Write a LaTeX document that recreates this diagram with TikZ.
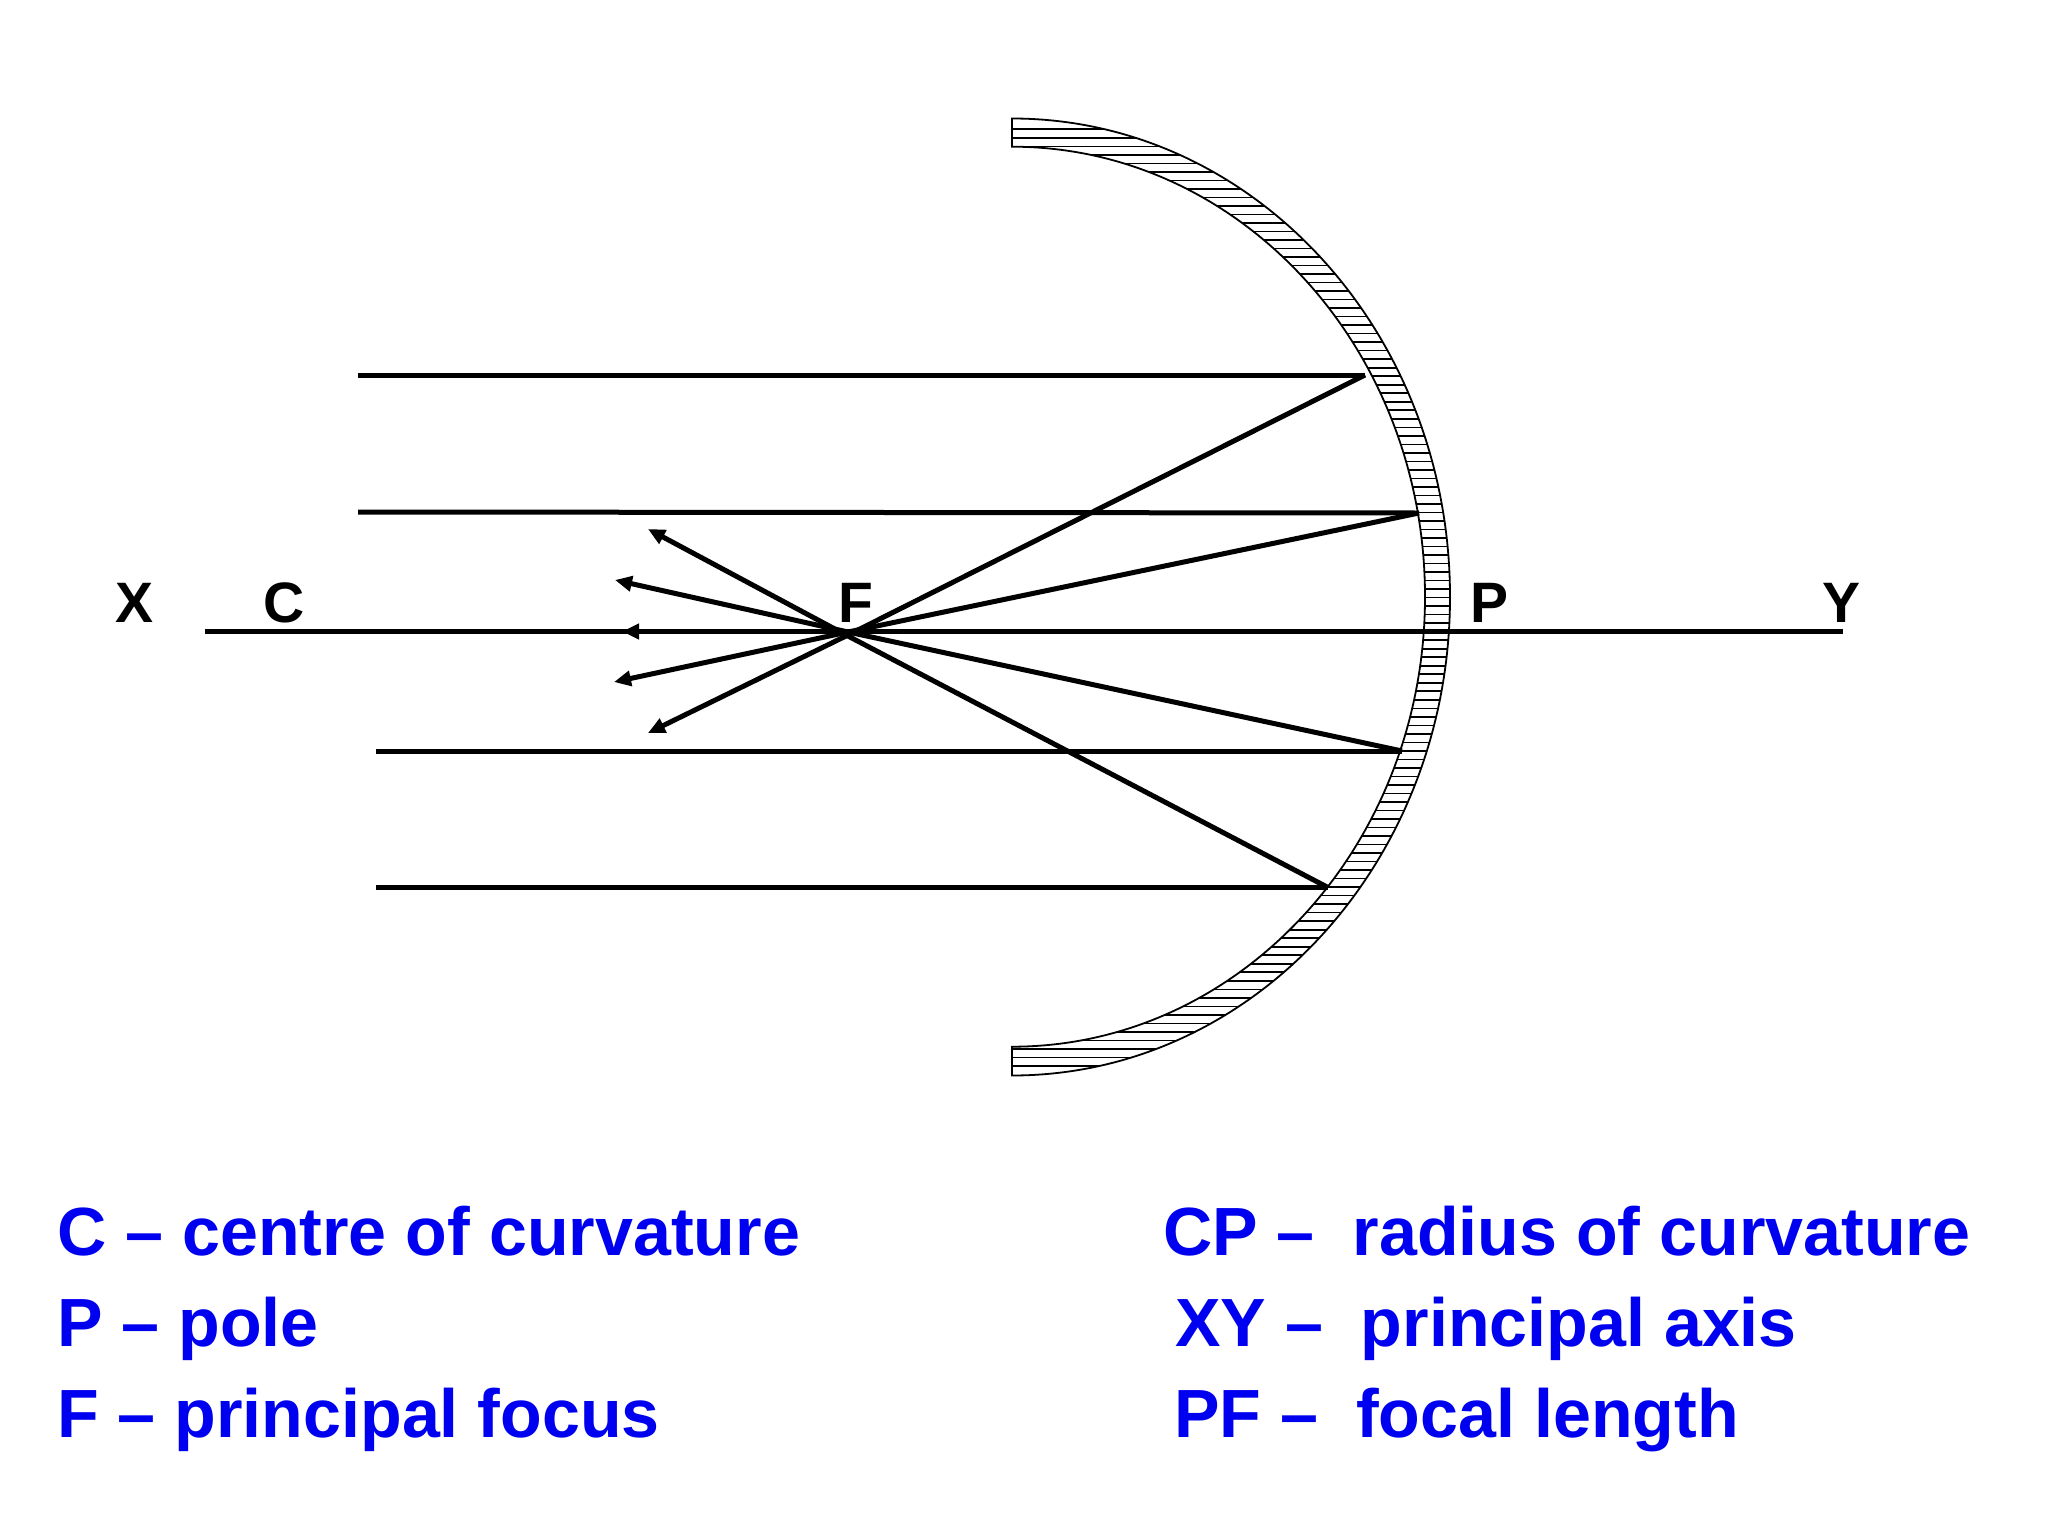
\documentclass[tikz,border=0pt]{standalone}
\usepackage{fontspec}
\setmainfont{Liberation Sans}
\usetikzlibrary{arrows.meta}
\definecolor{legendblue}{RGB}{0,0,240}
\tikzset{
  px/.style={x=1pt,y=-1pt},
  ray/.style={line width=5pt,line cap=butt,black},
  tipray/.style={ray,-{Triangle[length=17pt,width=15pt]}},
  axisline/.style={line width=5pt,black},
  mirrorline/.style={line width=1.8pt,black},
  hatchline/.style={line width=1.6pt,black},
  lab/.style={inner sep=0pt,anchor=base,font=\fontsize{57}{60}\selectfont\bfseries},
  legend/.style={inner sep=0pt,anchor=base west,text=legendblue,font=\fontsize{68.2}{72}\selectfont\bfseries}
}
\begin{document}
\begin{tikzpicture}[px]
\useasboundingbox (0,0) rectangle (2048,1536);
\fill[white] (0,0) rectangle (2048,1536);
% hatching
\begin{scope}
\clip (1012,118.5) arc[start angle=90,end angle=-90,x radius=438pt,y radius=478.5pt]
  -- (1012,1046.7) arc[start angle=-90,end angle=90,x radius=413pt,y radius=450pt] -- cycle;
\foreach \i in {0,...,110}{
  \draw[hatchline] (1005,129.3+\i*8.515) -- (1460,129.3+\i*8.515);
}
\end{scope}
\draw[mirrorline] (1012,118.5) arc[start angle=90,end angle=-90,x radius=438pt,y radius=478.5pt]
  -- (1012,1046.7) arc[start angle=-90,end angle=90,x radius=413pt,y radius=450pt] -- cycle;
% points
\coordinate (Fp) at (848,632);
\coordinate (Fo) at (847,635.5);
\coordinate (axL) at (205,631.5);
\coordinate (axR) at (1843,631.5);
\coordinate (axM) at (1428,631.5);
\coordinate (s1) at (358,375);   \coordinate (m1) at (1365,375);
\coordinate (s2) at (358,512);   \coordinate (m2) at (1419,513);
\coordinate (s3) at (376,751);   \coordinate (m3) at (1402,751);
\coordinate (s4) at (376,887.5); \coordinate (m4) at (1328,887.5);
\coordinate (t1) at (648,733);
\coordinate (t2) at (614,682);
\coordinate (t3) at (622,631.5);
\coordinate (t4) at (615,580);
\coordinate (t5) at (648,529);
% axis and rays
\draw[axisline] (axL) -- (axR);
\draw[ray] (s1) -- (m1);
\draw[ray] (s2) -- (m2);
\draw[ray] (s3) -- (m3);
\draw[ray] (s4) -- (m4);
\draw[ray] (m1) -- (Fo);
\draw[ray] (m2) -- (Fp);
\draw[ray] (m3) -- (Fp);
\draw[ray] (m4) -- (Fo);
\draw[tipray] (Fo) -- (t1);
\draw[tipray] (Fp) -- (t2);
\draw[tipray] (axM) -- (t3);
\draw[tipray] (Fp) -- (t4);
\draw[tipray] (Fo) -- (t5);
% labels
\node[lab] (lX) at (135,622) {X};
\node[lab] (lC) at (284,622) {C};
\node[lab] (lF) at (856,622) {F};
\node[lab] (lP) at (1489,622) {P};
\node[lab] (lY) at (1841,622) {Y};
% legend
\node[legend] (a1) at (57,1255) {C – centre of curvature};
\node[legend] (a2) at (57,1346) {P – pole};
\node[legend] (a3) at (57,1437) {F – principal focus};
\node[legend] (b1) at (1163,1255) {CP –\ \ radius of curvature};
\node[legend] (b2) at (1175,1346) {XY –\ \ principal axis};
\node[legend] (b3) at (1174,1437) {PF –\ \ focal length};
\end{tikzpicture}
\end{document}
